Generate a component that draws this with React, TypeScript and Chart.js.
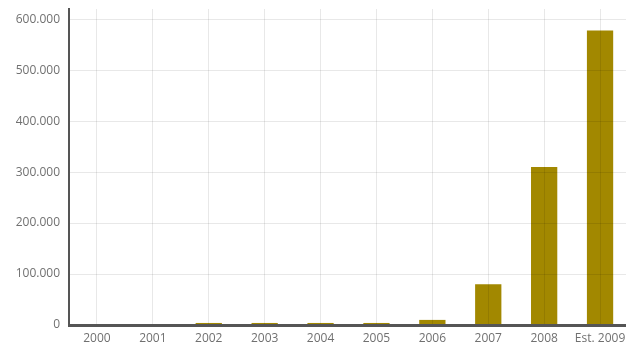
import React, { useEffect, useRef } from "react";
import { Chart, registerables } from "chart.js";

Chart.register(...registerables);

const categories = ["2000", "2001", "2002", "2003", "2004", "2005", "2006", "2007", "2008", "Est. 2009"];
const values = [0, 0, 4000, 4000, 4000, 4000, 10000, 80000, 310000, 578000];
const yTicks = [0, 100000, 200000, 300000, 400000, 500000, 600000];
const yMax = 620000;

export default function App() {
  const ref = useRef<HTMLCanvasElement | null>(null);
  useEffect(() => {
    document.body.style.margin = "0";
    document.body.style.overflow = "hidden";
    document.documentElement.style.overflow = "hidden";
    const font = { family: "'Open Sans', sans-serif", size: 12 };
    const chart = new Chart(ref.current!, {
      type: "bar",
      data: {
        labels: categories,
        datasets: [
          {
            data: values,
            backgroundColor: "rgb(162,136,0)",
            borderWidth: 0,
            categoryPercentage: 1,
            barPercentage: 0.47,
          },
        ],
      },
      options: {
        animation: false,
        responsive: false,
        maintainAspectRatio: false,
        layout: { padding: { top: 9, left: 0, right: 0, bottom: 0 } },
        plugins: { legend: { display: false }, tooltip: { enabled: false } },
        scales: {
          x: {
            offset: true,
            grid: { offset: false, color: "rgba(0,0,0,0.09)", drawTicks: false, z: 1 },
            border: { color: "#555", width: 3, z: 2 },
            ticks: { color: "#707070", font, padding: 6, maxRotation: 0, autoSkip: false },
            afterFit: (s: any) => { s.height = 22; s.paddingLeft = 0; s.paddingRight = 0; },
          },
          y: {
            min: 0,
            max: yMax,
            grid: { color: "rgba(0,0,0,0.09)", drawTicks: false, z: 1 },
            border: { color: "#555", width: 2, z: 2 },
            ticks: {
              color: "#707070",
              font,
              padding: 9,
              callback: (v: any) => Math.round(Number(v)).toString().replace(/\B(?=(\d{3})+(?!\d))/g, "."),
            },
            afterBuildTicks: (s: any) => { s.ticks = yTicks.map((v) => ({ value: v })); },
            afterFit: (s: any) => { s.width = 69; s.paddingTop = 0; s.paddingBottom = 0; },
          },
        },
      },
    });
    return () => chart.destroy();
  }, []);
  return (
    <div style={{ width: 626, height: 347, overflow: "hidden" }}>
      <canvas ref={ref} width={628} height={347} style={{ display: "block" }} />
    </div>
  );
}
